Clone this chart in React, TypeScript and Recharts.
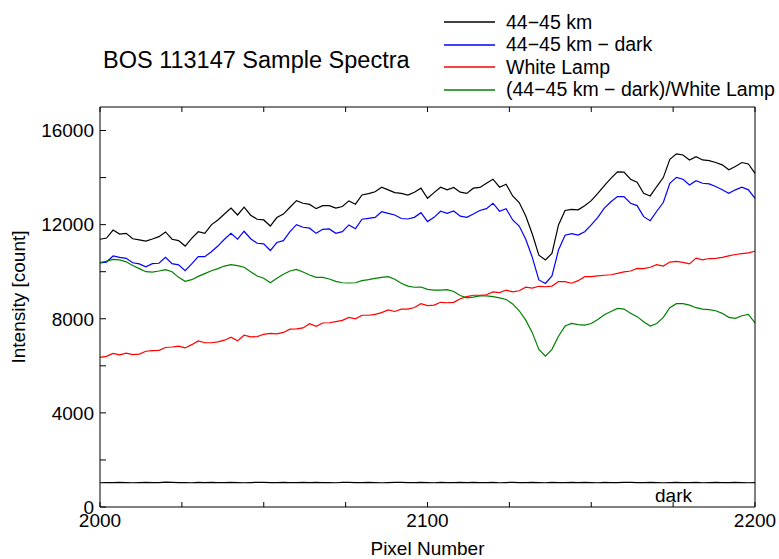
import { LineChart, Line, XAxis, YAxis, Legend, Label } from "recharts";

const pixel = [
  2000, 2002, 2004, 2006, 2008, 2010, 2012, 2014, 2016, 2018,
  2020, 2022, 2024, 2026, 2028, 2030, 2032, 2034, 2036, 2038,
  2040, 2042, 2044, 2046, 2048, 2050, 2052, 2054, 2056, 2058,
  2060, 2062, 2064, 2066, 2068, 2070, 2072, 2074, 2076, 2078,
  2080, 2082, 2084, 2086, 2088, 2090, 2092, 2094, 2096, 2098,
  2100, 2102, 2104, 2106, 2108, 2110, 2112, 2114, 2116, 2118,
  2120, 2122, 2124, 2126, 2128, 2130, 2132, 2134, 2136, 2138,
  2140, 2142, 2144, 2146, 2148, 2150, 2152, 2154, 2156, 2158,
  2160, 2162, 2164, 2166, 2168, 2170, 2172, 2174, 2176, 2178,
  2180, 2182, 2184, 2186, 2188, 2190, 2192, 2194, 2196, 2198,
  2200,
];

// 44-45 km raw
const signal = [
  11380, 11430, 11770, 11600, 11630, 11400, 11350, 11300, 11390, 11490,
  11690, 11380, 11320, 11090, 11420, 11700, 11630, 11990, 12200, 12450,
  12700, 12410, 12740, 12400, 12230, 12200, 11940, 12300, 12450, 12740,
  13020, 12910, 12860, 12680, 12810, 12810, 12700, 12770, 13010, 12870,
  13260, 13320, 13400, 13590, 13480, 13360, 13330, 13260, 13380, 13550,
  13120, 13360, 13590, 13480, 13580, 13380, 13330, 13550, 13580, 13760,
  13930, 13590, 13720, 13220, 12940, 12370, 11600, 10700, 10500, 10780,
  11990, 12600, 12650, 12630, 12800, 13020, 13330, 13660, 13970, 14240,
  14230, 13930, 13800, 13330, 13220, 13620, 14000, 14780, 15010, 14960,
  14750, 14890, 14750, 14720, 14640, 14540, 14330, 14470, 14640, 14580,
  14180,
];

// 44-45 km minus dark
const signalMinusDark = [
  10370, 10410, 10670, 10610, 10570, 10380, 10330, 10210, 10340, 10360,
  10610, 10340, 10290, 10040, 10330, 10640, 10640, 10850, 11090, 11380,
  11630, 11380, 11720, 11400, 11210, 11180, 10900, 11240, 11320, 11700,
  12000, 11890, 11850, 11630, 11800, 11820, 11630, 11700, 11990, 11830,
  12230, 12270, 12310, 12550, 12480, 12410, 12260, 12240, 12310, 12510,
  12130, 12310, 12570, 12480, 12580, 12360, 12310, 12450, 12600, 12680,
  12910, 12570, 12680, 12200, 11940, 11380, 10610, 9650, 9500, 9820,
  10920, 11550, 11620, 11560, 11700, 11990, 12310, 12700, 12970, 13190,
  13190, 12910, 12810, 12340, 12170, 12570, 12940, 13760, 14010, 13930,
  13690, 13870, 13760, 13730, 13620, 13480, 13330, 13480, 13590, 13480,
  13120,
];

const whiteLamp = [
  6360, 6400, 6530, 6470, 6540, 6480, 6500, 6620, 6650, 6660,
  6780, 6800, 6840, 6760, 6900, 7060, 6980, 6980, 7020, 7090,
  7220, 7060, 7300, 7230, 7240, 7340, 7380, 7360, 7420, 7560,
  7570, 7610, 7790, 7680, 7820, 7830, 7880, 7930, 8060, 8000,
  8150, 8150, 8190, 8260, 8380, 8310, 8410, 8410, 8480, 8640,
  8560, 8580, 8700, 8680, 8700, 8850, 8940, 9000, 9000, 9020,
  9140, 9110, 9220, 9140, 9190, 9340, 9300, 9380, 9360, 9390,
  9580, 9580, 9510, 9620, 9790, 9790, 9820, 9850, 9870, 9930,
  9990, 10030, 10140, 10130, 10190, 10300, 10240, 10410, 10440, 10400,
  10330, 10580, 10500, 10560, 10570, 10610, 10670, 10730, 10770, 10800,
  10870,
];

// (44-45 km - dark) / White Lamp, scaled onto the count axis
const ratio = [
  10390, 10450, 10520, 10500, 10420, 10260, 10130, 10000, 9980, 10030,
  10090, 10000, 9760, 9590, 9660, 9800, 9920, 10040, 10130, 10240,
  10300, 10260, 10190, 10000, 9820, 9720, 9530, 9720, 9890, 10030,
  10100, 9990, 9860, 9760, 9760, 9690, 9590, 9530, 9520, 9530,
  9620, 9660, 9720, 9760, 9790, 9680, 9510, 9390, 9340, 9350,
  9250, 9220, 9220, 9240, 9160, 8990, 8890, 8920, 8970, 8970,
  8940, 8890, 8820, 8630, 8340, 7940, 7410, 6700, 6410, 6700,
  7260, 7690, 7800, 7750, 7730, 7800, 7970, 8170, 8310, 8440,
  8410, 8230, 8090, 7870, 7690, 7800, 8060, 8470, 8640, 8640,
  8580, 8470, 8410, 8390, 8340, 8230, 8060, 8020, 8130, 8190,
  7830,
];

const dark = [
  1030, 1040, 1035, 1045, 1040, 1030, 1040, 1045, 1035, 1040,
  1060, 1045, 1035, 1040, 1030, 1045, 1040, 1050, 1040, 1035,
  1045, 1040, 1030, 1040, 1050, 1045, 1035, 1040, 1045, 1040,
  1035, 1050, 1040, 1045, 1035, 1040, 1030, 1045, 1050, 1040,
  1035, 1045, 1040, 1030, 1040, 1045, 1050, 1040, 1035, 1045,
  1040, 1030, 1045, 1040, 1035, 1050, 1040, 1045, 1035, 1040,
  1045, 1030, 1040, 1050, 1040, 1035, 1045, 1040, 1030, 1045,
  1040, 1035, 1050, 1040, 1045, 1040, 1030, 1045, 1040, 1035,
  1045, 1050, 1040, 1035, 1045, 1040, 1030, 1040, 1045, 1035,
  1040, 1045, 1030, 1040, 1050, 1040, 1035, 1045, 1040, 1030,
  1040,
];

const legendNames = ["44−45 km", "44−45 km − dark", "White Lamp", "(44−45 km − dark)/White Lamp"];
const legendColors = ["#000000", "#0000ff", "#ff0000", "#008000"];

const xTicks = [2000, 2025, 2050, 2075, 2100, 2125, 2150, 2175, 2200];
const xLabels = [2000, 2100, 2200];
const yTicks = [0, 2000, 4000, 6000, 8000, 10000, 12000, 14000, 16000];
const yLabels = [0, 4000, 8000, 12000, 16000];

const data = pixel.map((p, i) => ({
  pixel: p,
  signal: signal[i],
  signalMinusDark: signalMinusDark[i],
  whiteLamp: whiteLamp[i],
  ratio: ratio[i],
  dark: dark[i],
}));

const font = '"Liberation Sans", Arial, Helvetica, sans-serif';

function BottomTick({ x, y, payload }: any) {
  return (
    <g>
      <line x1={x} y1={y} x2={x} y2={y - 5} stroke="#000" />
      {xLabels.includes(payload.value) && (
        <text x={x} y={y + 20} textAnchor="middle" fontSize={19} fontFamily={font} fill="#000">
          {payload.value}
        </text>
      )}
    </g>
  );
}

function TopTick({ x, y }: any) {
  return <line x1={x} y1={y} x2={x} y2={y + 5} stroke="#000" />;
}

function LeftTick({ x, y, payload }: any) {
  return (
    <g>
      <line x1={x} y1={y} x2={x + 6} y2={y} stroke="#000" />
      {yLabels.includes(payload.value) && (
        <text x={x - 6} y={y} dy="0.36em" textAnchor="end" fontSize={19} fontFamily={font} fill="#000">
          {payload.value}
        </text>
      )}
    </g>
  );
}

function RightTick({ x, y }: any) {
  return <line x1={x} y1={y} x2={x - 6} y2={y} stroke="#000" />;
}

// legend drawn from our own list so that order matches and "dark" stays out
const renderLegend = () => (
  <div style={{ fontFamily: font, fontSize: 19.5, color: "#000" }}>
    {legendNames.map((name, i) => (
      <div key={name} style={{ display: "flex", alignItems: "center", height: 22.5 }}>
        <svg width={51} height={4} style={{ display: "block" }}>
          <line x1={0} y1={2} x2={51} y2={2} stroke={legendColors[i]} strokeWidth={1.5} />
        </svg>
        <span style={{ marginLeft: 11, whiteSpace: "nowrap" }}>{name}</span>
      </div>
    ))}
  </div>
);

export default function App() {
  return (
    <div style={{ position: "relative", width: 779, height: 559, overflow: "hidden", background: "#fff" }}>
      <style>{"body{margin:0}"}</style>
      <div
        style={{
          position: "absolute",
          left: 103,
          top: 47,
          fontFamily: font,
          fontSize: 23.5,
          lineHeight: "26px",
          whiteSpace: "nowrap",
          zIndex: 2,
        }}
      >
        BOS 113147 Sample Spectra
      </div>
      <div
        style={{
          position: "absolute",
          left: 18,
          top: 297,
          transform: "translate(-50%, -50%) rotate(-90deg)",
          fontFamily: font,
          fontSize: 19,
          lineHeight: "19px",
          whiteSpace: "nowrap",
          zIndex: 2,
        }}
      >
        Intensity [count]
      </div>
      <LineChart
        width={779}
        height={559}
        data={data}
        margin={{ top: 106, right: 23, bottom: 0, left: 0 }}
      >
        <XAxis
          xAxisId="bottom"
          dataKey="pixel"
          type="number"
          domain={[2000, 2200]}
          ticks={xTicks}
          interval={0}
          height={52}
          tickSize={0}
          tickLine={false}
          tickMargin={0}
          axisLine={{ stroke: "#000" }}
          tick={BottomTick}
        >
          <Label
            value="Pixel Number"
            position="insideBottom"
            offset={4}
            style={{ fontSize: 19, fontFamily: font, fill: "#000" }}
          />
        </XAxis>
        <XAxis
          xAxisId="top"
          orientation="top"
          dataKey="pixel"
          type="number"
          domain={[2000, 2200]}
          ticks={xTicks}
          interval={0}
          height={1}
          tickSize={0}
          tickLine={false}
          tickMargin={0}
          axisLine={{ stroke: "#000" }}
          tick={TopTick}
        />
        <YAxis
          yAxisId="left"
          type="number"
          domain={[0, 17000]}
          ticks={yTicks}
          interval={0}
          width={100}
          tickSize={0}
          tickLine={false}
          tickMargin={0}
          axisLine={{ stroke: "#000" }}
          tick={LeftTick}
        />
        <YAxis
          yAxisId="right"
          orientation="right"
          type="number"
          domain={[0, 17000]}
          ticks={yTicks}
          interval={0}
          width={1}
          tickSize={0}
          tickLine={false}
          tickMargin={0}
          axisLine={{ stroke: "#000" }}
          tick={RightTick}
        />
        <Legend
          layout="vertical"
          align="center"
          verticalAlign="middle"
          wrapperStyle={{ left: 444, top: 11, width: 335, height: 92 }}
          content={renderLegend}
        />
        <Line
          xAxisId="bottom"
          yAxisId="left"
          dataKey="signal"
          name="44−45 km"
          stroke="#000000"
          strokeWidth={1.2}
          dot={false}
          type="linear"
          isAnimationActive={false}
        />
        <Line
          xAxisId="bottom"
          yAxisId="left"
          dataKey="signalMinusDark"
          name="44−45 km − dark"
          stroke="#0000ff"
          strokeWidth={1.2}
          dot={false}
          type="linear"
          isAnimationActive={false}
        />
        <Line
          xAxisId="bottom"
          yAxisId="left"
          dataKey="whiteLamp"
          name="White Lamp"
          stroke="#ff0000"
          strokeWidth={1.2}
          dot={false}
          type="linear"
          isAnimationActive={false}
        />
        <Line
          xAxisId="bottom"
          yAxisId="left"
          dataKey="ratio"
          name="(44−45 km − dark)/White Lamp"
          stroke="#008000"
          strokeWidth={1.2}
          dot={false}
          type="linear"
          isAnimationActive={false}
        />
        <Line
          xAxisId="bottom"
          yAxisId="left"
          dataKey="dark"
          name="dark"
          legendType="none"
          stroke="#000000"
          strokeWidth={1.2}
          dot={false}
          type="linear"
          isAnimationActive={false}
        />
      </LineChart>
      <div
        style={{
          position: "absolute",
          left: 655,
          top: 486,
          fontFamily: font,
          fontSize: 19,
          lineHeight: "19px",
          whiteSpace: "nowrap",
        }}
      >
        dark
      </div>
    </div>
  );
}
